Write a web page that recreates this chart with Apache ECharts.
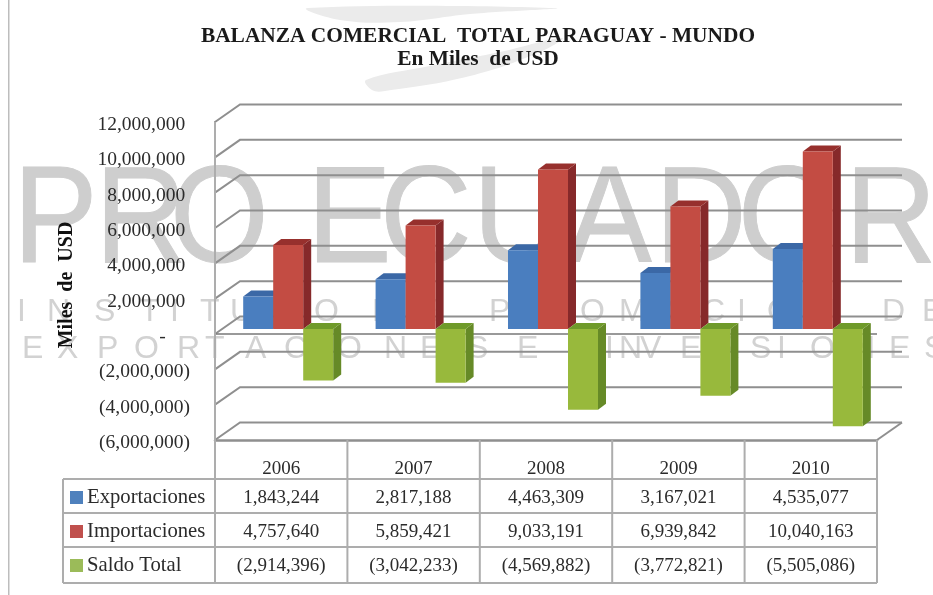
<!DOCTYPE html>
<html>
<head>
<meta charset="utf-8">
<style>
html,body{margin:0;padding:0;background:#fff}
#c{width:933px;height:595px;filter:blur(0.7px)}
</style>
<script src="https://cdn.jsdelivr.net/npm/echarts@6/dist/echarts.min.js"></script>
</head>
<body>
<div id="c"></div>
<script>
const years = ['2006','2007','2008','2009','2010'];
const exportaciones = [1843244,2817188,4463309,3167021,4535077];
const importaciones = [4757640,5859421,9033191,6939842,10040163];
const saldoTotal = [-2914396,-3042233,-4569882,-3772821,-5505086];
const gridTicks = [12000000,10000000,8000000,6000000,4000000,2000000,0,-2000000,-4000000,-6000000];
const titleLines = ['BALANZA COMERCIAL  TOTAL PARAGUAY - MUNDO','En Miles  de USD'];
const axisName = 'Miles  de  USD';
const serif = '"Liberation Serif"';
const wmBig = [['P',18],['R',100],['O',175],['E',312],['C',385],['U',478],['A',572],['D',660],['O',743],['R',850]];
const wmLine1 = [['I',20],['N',50],['S',97],['T',143],['I',173],['T',203],['U',233],['T',280],['O',317],['D',375],['E',420],['P',492],['R',537],['O',583],['M',622],['O',668],['C',705],['I',740],['O',770],['N',815],['D',885],['E',925]];
const wmLine2 = [['E',25],['X',60],['P',100],['O',137],['R',180],['T',208],['A',248],['C',287],['I',318],['O',340],['N',387],['E',423],['S',470],['E',520],['I',608],['N',622],['V',643],['E',683],['R',720],['S',753],['I',780],['O',813],['N',855],['E',892],['S',927]];

const fmt = v => Math.abs(v).toLocaleString('en-US');
const fmtCell = v => v < 0 ? '(' + fmt(v) + ')' : fmt(v);
const depthX = 25, depthY = 17.5;          // chart floor depth
const planeX = 7, planeY = 5;              // bars stand a little behind the front edge
const barDX = 8, barDY = 6;                // bar thickness
const wallColor = '#8f8f8f', tableColor = '#adadad';

function poly(points, fill){
  return {type:'polygon', shape:{points}, style:{fill, stroke:null}};
}
function barRender(slot, cFront, cSide, cTop){
  return function(params, api){
    const i = api.value(0), v = api.value(1);
    const band = api.size([1,0])[0];
    const w = band * 0.2266;
    const c = api.coord([i, v]), z = api.coord([i, 0]);
    const x0 = c[0] + planeX + (slot - 1.5) * w;
    const x1 = x0 + w;
    const yV = c[1] - planeY, yZ = z[1] - planeY;
    const yT = Math.min(yV, yZ), yB = Math.max(yV, yZ);
    return {type:'group', children:[
      poly([[x1,yT],[x1+barDX,yT-barDY],[x1+barDX,yB-barDY],[x1,yB]], cSide),
      poly([[x0,yT],[x0+barDX,yT-barDY],[x1+barDX,yT-barDY],[x1,yT]], cTop),
      poly([[x0,yT],[x1,yT],[x1,yB],[x0,yB]], cFront)
    ]};
  };
}
function wallRender(params, api){
  const cs = params.coordSys, v = api.value(1);
  const y = api.coord([0, v])[1];
  const style = {stroke:wallColor, lineWidth:2, fill:null};
  const kids = [{type:'polyline', shape:{points:[[cs.x,y],[cs.x+depthX,y-depthY],[cs.x+cs.width+depthX,y-depthY]]}, style}];
  if (v === 0) kids.push({type:'line', shape:{x1:cs.x,y1:y,x2:cs.x+cs.width,y2:y}, style:{stroke:'#777',lineWidth:1.4}});
  if (v === gridTicks[gridTicks.length-1]) kids.push({type:'line', shape:{x1:cs.x+cs.width,y1:y,x2:cs.x+cs.width+depthX,y2:y-depthY}, style});
  return {type:'group', children:kids};
}
const rowY = [496,530,564], rowLines = [479,513,547,583], tableLeft = 63;
function tableRender(params, api){
  const cs = params.coordSys, i = api.value(0);
  const cx = api.coord([i,0])[0], band = api.size([1,0])[0];
  const right = cx + band/2;
  const st = {stroke:tableColor, lineWidth:2};
  const bottom = cs.y + cs.height;
  const kids = [{type:'line', shape:{x1:right,y1:bottom,x2:right,y2:rowLines[3]}, style:st}];
  [api.value(1),api.value(2),api.value(3)].forEach((v,r)=>{
    kids.push({type:'text', style:{x:cx,y:rowY[r]+2,text:fmtCell(v),font:'19px '+serif,fill:'#2b2b2b',textAlign:'center',textVerticalAlign:'middle'}});
  });
  if (i === 0) {
    kids.push({type:'line', shape:{x1:cs.x,y1:cs.y,x2:cs.x,y2:rowLines[3]}, style:st});
    kids.push({type:'line', shape:{x1:tableLeft,y1:rowLines[0],x2:tableLeft,y2:rowLines[3]}, style:st});
    rowLines.forEach(y=>kids.push({type:'line', shape:{x1:tableLeft,y1:y,x2:cs.x+cs.width,y2:y}, style:st}));
  }
  return {type:'group', children:kids};
}
function wmBigText(arr){
  return arr.map(a=>({type:'text', z:-5, silent:true, x:a[1]-5, y:224, scaleX:0.92, style:{text:a[0], font:'138px "Liberation Sans"', fill:'#cecece', stroke:'#cecece', lineWidth:1, textVerticalAlign:'middle'}}));
}
function wmText(arr, y, size){
  return arr.map(a=>({type:'text', z:-5, silent:true, x:a[1]-3, y, style:{text:a[0], font:size+'px "Liberation Sans"', fill:'#d2d2d2', textVerticalAlign:'middle'}}));
}
const chart = echarts.init(document.getElementById('c'));
chart.setOption({
  animation:false,
  backgroundColor:'#fff',
  title:{text:titleLines.join('\n'), left:473, top:20, textAlign:'center',
    textStyle:{fontFamily:serif,fontWeight:'bold',fontSize:21.4,color:'#1a1a1a',lineHeight:23}},
  legend:{data:['Exportaciones','Importaciones','Saldo Total'], orient:'vertical', left:65, top:482, itemWidth:13, itemHeight:13, itemGap:13, icon:'rect', selectedMode:false,
    textStyle:{fontFamily:serif,fontSize:20.7,color:'#2b2b2b',padding:[0,0,0,-1]}},
  grid:{left:215,right:56,top:122,bottom:155},
  xAxis:{type:'category',data:years,
    axisLine:{onZero:false,lineStyle:{color:wallColor,width:2.5}},axisTick:{show:false},
    axisLabel:{fontFamily:serif,fontSize:19,color:'#2b2b2b',margin:20,interval:0},splitLine:{show:false}},
  yAxis:{type:'value',min:-6000000,max:12000000,interval:2000000,
    name:axisName,nameLocation:'middle',nameGap:138,
    nameTextStyle:{fontFamily:serif,fontWeight:'bold',fontSize:20,color:'#111',padding:[0,8,0,0]},
    axisLine:{show:true,lineStyle:{color:wallColor,width:2}},axisTick:{show:false},splitLine:{show:false},
    axisLabel:{fontFamily:serif,fontSize:19.5,color:'#2b2b2b',margin:25,verticalAlign:'top',lineHeight:6,
      formatter:v=> v<0 ? '('+fmt(v)+')' : v===0 ? '-     ' : fmt(v)+' '}},
  series:[
    {type:'custom',name:'walls',z:1,silent:true,renderItem:wallRender,encode:{x:0,y:1},data:gridTicks.map(v=>[0,v])},
    {type:'custom',name:'Exportaciones',z:3,silent:true,itemStyle:{color:'#4f81bd'},encode:{x:0,y:1},
      renderItem:barRender(0,'#4a7ebf','#35608f','#3b68a6'),data:exportaciones.map((v,i)=>[i,v])},
    {type:'custom',name:'Importaciones',z:3,silent:true,itemStyle:{color:'#c0504d'},encode:{x:0,y:1},
      renderItem:barRender(1,'#c34c43','#86292a','#97302d'),data:importaciones.map((v,i)=>[i,v])},
    {type:'custom',name:'Saldo Total',z:4,silent:true,itemStyle:{color:'#9bbb59'},encode:{x:0,y:1},
      renderItem:barRender(2,'#98b93c','#668a27','#6f9a2a'),data:saldoTotal.map((v,i)=>[i,v])},
    {type:'custom',name:'tabla',z:2,silent:true,renderItem:tableRender,encode:{x:0,y:4},
      data:years.map((y,i)=>[i,exportaciones[i],importaciones[i],saldoTotal[i],0])}
  ],
  graphic:[
    {type:'rect',z:-10,silent:true,shape:{x:8,y:0,width:1.5,height:595},style:{fill:'#bdbdbd'}},
    {type:'polygon',z:-9,silent:true,shape:{smooth:0.4,points:[[308,8],[555,8],[470,14],[400,22],[340,20]]},style:{fill:'#ebebeb'}},
    {type:'polygon',z:-9,silent:true,shape:{smooth:0.4,points:[[366,80],[430,66],[500,52],[562,38],[540,52],[470,76],[385,91],[372,90]]},style:{fill:'#ebebeb'}},
    ...wmBigText(wmBig),...wmText(wmLine1,312,32),...wmText(wmLine2,349,32)
  ]
});
</script>
</body>
</html>
